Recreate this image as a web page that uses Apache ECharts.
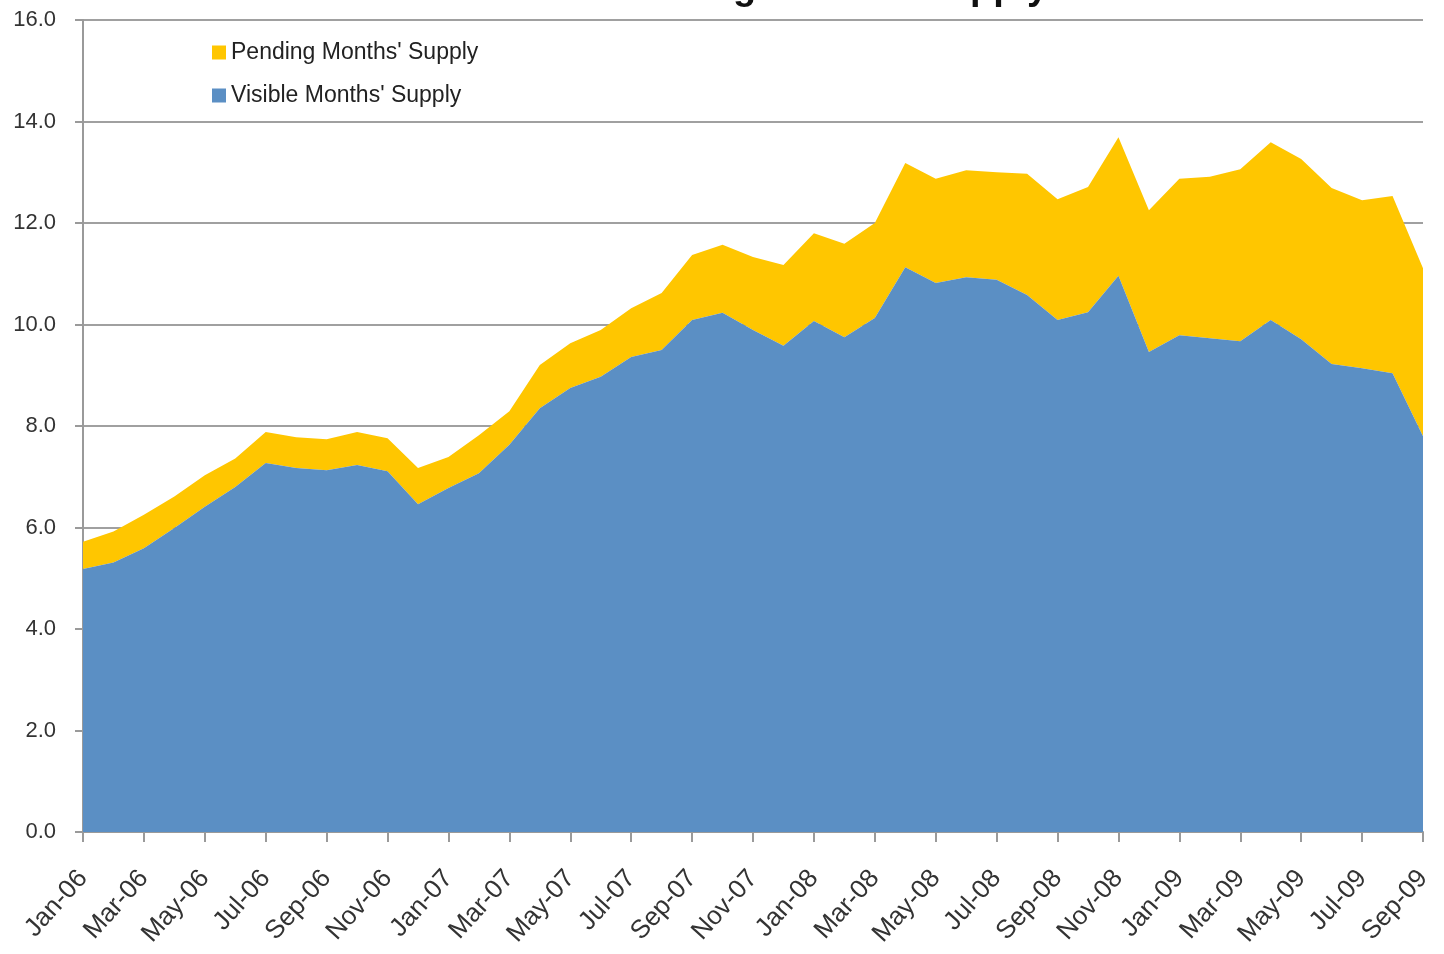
<!DOCTYPE html>
<html>
<head>
<meta charset="utf-8">
<script src="https://cdn.jsdelivr.net/npm/echarts@6/dist/echarts.min.js"></script>
<style>html,body{margin:0;padding:0;background:#fff}#c{width:1444px;height:954px}</style>
</head>
<body>
<div id="c"></div>
<script>
const months = ['Jan-06','Feb-06','Mar-06','Apr-06','May-06','Jun-06','Jul-06','Aug-06','Sep-06','Oct-06','Nov-06','Dec-06',
  'Jan-07','Feb-07','Mar-07','Apr-07','May-07','Jun-07','Jul-07','Aug-07','Sep-07','Oct-07','Nov-07','Dec-07',
  'Jan-08','Feb-08','Mar-08','Apr-08','May-08','Jun-08','Jul-08','Aug-08','Sep-08','Oct-08','Nov-08','Dec-08',
  'Jan-09','Feb-09','Mar-09','Apr-09','May-09','Jun-09','Jul-09','Aug-09','Sep-09'];
const visible = [5.18,5.31,5.59,5.99,6.41,6.80,7.27,7.17,7.13,7.23,7.11,6.46,
  6.78,7.07,7.63,8.35,8.75,8.97,9.36,9.50,10.09,10.23,9.89,9.58,
  10.07,9.75,10.13,11.13,10.82,10.93,10.88,10.58,10.09,10.24,10.96,9.46,
  9.79,9.73,9.67,10.09,9.71,9.22,9.14,9.04,7.80];
const total = [5.72,5.92,6.25,6.61,7.03,7.36,7.88,7.78,7.74,7.88,7.76,7.17,
  7.39,7.82,8.29,9.20,9.63,9.89,10.32,10.62,11.37,11.57,11.33,11.17,
  11.80,11.59,12.00,13.18,12.87,13.04,13.00,12.97,12.47,12.71,13.69,12.25,
  12.87,12.91,13.06,13.59,13.26,12.69,12.45,12.53,11.11];
const pending = total.map((t, i) => +(t - visible[i]).toFixed(2));
const yTicks = [0, 2, 4, 6, 8, 10, 12, 14, 16];
const titleText = "Visible and Pending Months' Supply";

const chart = echarts.init(document.getElementById('c'));
const labelFont = "'Liberation Sans Narrow', 'Liberation Sans', sans-serif";
chart.setOption({
  animation: false,
  title: {
    text: titleText, left: 'center', top: -35,
    textStyle: { fontSize: 38, fontWeight: 'bold', color: '#111', fontFamily: "'Liberation Sans', sans-serif" }
  },
  legend: {
    orient: 'vertical', left: 207, top: 36, itemGap: 20,
    itemWidth: 14, itemHeight: 14, icon: 'rect',
    data: ["Pending Months' Supply", "Visible Months' Supply"],
    textStyle: { fontSize: 23, color: '#222', fontFamily: labelFont, padding: [0, 0, 0, 0] }
  },
  grid: { left: 83, right: 21, top: 20, bottom: 122, containLabel: false },
  xAxis: {
    type: 'category', data: months, boundaryGap: false,
    axisLine: { lineStyle: { color: '#9a9a9a', width: 2 } },
    axisTick: { show: true, interval: 1, length: 10, lineStyle: { color: '#9a9a9a', width: 2 } },
    axisLabel: { interval: 1, rotate: 48, fontSize: 26, color: '#333', fontFamily: labelFont, margin: 42 },
    splitLine: { show: false }
  },
  yAxis: {
    type: 'value', min: yTicks[0], max: yTicks[yTicks.length - 1], interval: 2,
    axisLine: { show: true, lineStyle: { color: '#9a9a9a', width: 2 } },
    axisTick: { show: true, length: 8, lineStyle: { color: '#9a9a9a', width: 2 } },
    axisLabel: { fontSize: 22, color: '#333', fontFamily: labelFont, margin: 27, formatter: v => v.toFixed(1) },
    splitLine: { show: true, lineStyle: { color: '#a0a0a0', width: 2 } }
  },
  series: [
    {
      name: "Visible Months' Supply", type: 'line', stack: 'total', data: visible,
      symbol: 'none', lineStyle: { width: 0 }, itemStyle: { color: '#5B8FC4' },
      areaStyle: { color: '#5B8FC4', opacity: 1 }, z: 3
    },
    {
      name: "Pending Months' Supply", type: 'line', stack: 'total', data: pending,
      symbol: 'none', lineStyle: { width: 0 }, itemStyle: { color: '#FFC600' },
      areaStyle: { color: '#FFC600', opacity: 1 }, z: 2
    }
  ]
});
</script>
</body>
</html>
